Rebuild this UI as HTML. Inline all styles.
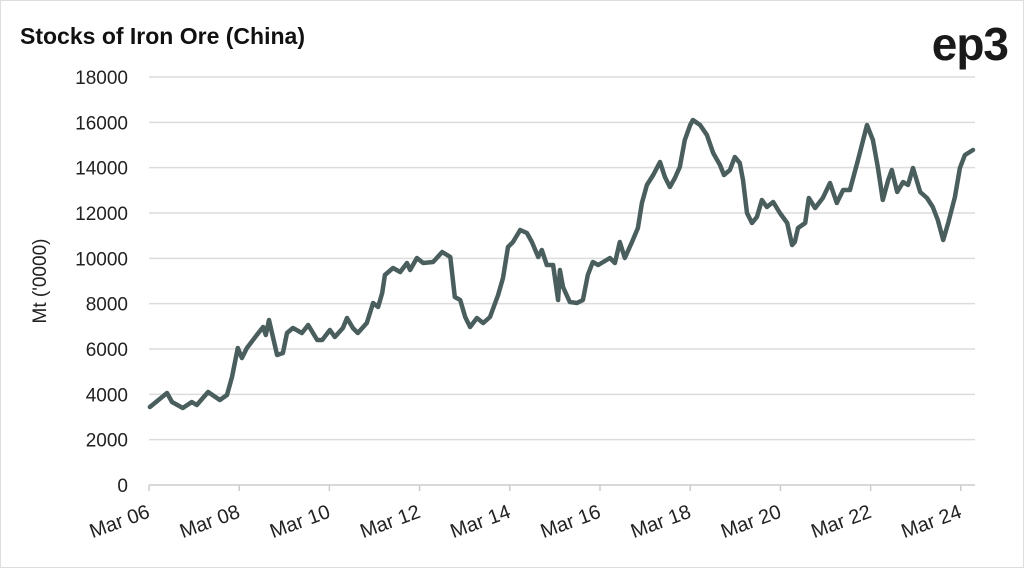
<!DOCTYPE html>
<html><head><meta charset="utf-8"><style>
html,body{margin:0;padding:0;background:#fff}
#wrap{position:relative;width:1024px;height:569px;overflow:hidden}
svg text{font-family:"Liberation Sans",sans-serif}
</style></head><body>
<div id="wrap">
<svg id="chart" width="1024" height="569">
<rect x="0.5" y="0.5" width="1023" height="567" fill="#fff" stroke="#ddd"/>
<text x="20" y="44" font-size="23" font-weight="bold" fill="#111">Stocks of Iron Ore (China)</text>
<text x="1008" y="60" font-size="46" font-weight="bold" fill="#1a1a1a" text-anchor="end" letter-spacing="-1">ep3</text>
<text transform="translate(46,281) rotate(-90)" font-size="19" fill="#222" text-anchor="middle">Mt ('0000)</text>
<g id="grid"></g><g id="xaxis"></g><g id="series"></g>
</svg></div>
<script>
const yTicks=[0,2000,4000,6000,8000,10000,12000,14000,16000,18000];
const xTickLabels=["Mar 06","Mar 08","Mar 10","Mar 12","Mar 14","Mar 16","Mar 18","Mar 20","Mar 22","Mar 24"];
const xTickYears=[2006,2008,2010,2012,2014,2016,2018,2020,2022,2024];
const dates=[2006.02,2006.40,2006.51,2006.75,2006.95,2007.06,2007.31,2007.57,2007.73,2007.84,2007.97,2008.06,2008.17,2008.39,2008.53,2008.59,2008.66,2008.84,2008.97,2009.06,2009.19,2009.39,2009.53,2009.73,2009.84,2010.01,2010.12,2010.30,2010.39,2010.52,2010.63,2010.83,2010.97,2011.08,2011.17,2011.23,2011.41,2011.57,2011.72,2011.79,2011.94,2012.08,2012.30,2012.50,2012.68,2012.78,2012.90,2013.01,2013.12,2013.27,2013.41,2013.56,2013.74,2013.85,2013.96,2014.07,2014.23,2014.38,2014.49,2014.63,2014.71,2014.82,2014.96,2015.07,2015.11,2015.18,2015.33,2015.49,2015.62,2015.73,2015.84,2015.96,2016.22,2016.33,2016.44,2016.55,2016.71,2016.84,2016.93,2017.04,2017.18,2017.33,2017.44,2017.55,2017.66,2017.77,2017.88,2018.00,2018.06,2018.22,2018.37,2018.51,2018.66,2018.75,2018.88,2018.99,2019.10,2019.17,2019.26,2019.37,2019.48,2019.59,2019.70,2019.84,2019.99,2020.15,2020.26,2020.32,2020.39,2020.55,2020.63,2020.77,2020.94,2021.10,2021.25,2021.39,2021.54,2021.72,2021.92,2022.05,2022.16,2022.27,2022.39,2022.47,2022.59,2022.72,2022.83,2022.94,2023.10,2023.25,2023.38,2023.49,2023.61,2023.72,2023.87,2023.98,2024.09,2024.27];
const values=[3440,4059,3662,3397,3662,3530,4103,3750,3971,4765,6044,5603,6044,6618,6971,6618,7280,5736,5824,6706,6927,6706,7059,6397,6397,6839,6530,6927,7368,6927,6706,7147,8030,7853,8471,9265,9574,9398,9795,9486,10015,9795,9839,10280,10059,8295,8162,7412,6971,7368,7147,7412,8383,9133,10501,10721,11251,11118,10721,10059,10368,9706,9706,8162,9486,8736,8074,8030,8162,9265,9839,9706,10015,9795,10721,10015,10721,11339,12442,13236,13677,14251,13589,13148,13545,14030,15221,15883,16104,15883,15442,14648,14118,13677,13898,14471,14207,13457,12001,11559,11824,12574,12265,12486,12001,11559,10589,10721,11339,11559,12662,12221,12662,13324,12442,13015,13015,14339,15883,15221,14030,12574,13457,13898,12927,13368,13236,13986,12927,12662,12265,11692,10809,11559,12707,13986,14560,14780];
const NS="http://www.w3.org/2000/svg";
const X0=149,XR=45.1,Y0=485,YS=408/18000;
function xs(t){return X0+(t-2006)*XR;}
function ys(v){return Y0-v*YS;}
const grid=document.getElementById('grid');
yTicks.forEach(v=>{
  if(v>0){const l=document.createElementNS(NS,'line');
  l.setAttribute('x1',X0);l.setAttribute('x2',975);l.setAttribute('y1',ys(v));l.setAttribute('y2',ys(v));
  l.setAttribute('stroke','#dcdcdc');l.setAttribute('stroke-width','1.5');
  
  
  grid.appendChild(l);}
  const t=document.createElementNS(NS,'text');
  t.setAttribute('x',128);t.setAttribute('y',ys(v)+7);t.setAttribute('text-anchor','end');
  t.setAttribute('font-size','19');t.setAttribute('fill','#222');t.textContent=v;
  
  
  grid.appendChild(t);
});
const xa=document.getElementById('xaxis');
const ax=document.createElementNS(NS,'line');
ax.setAttribute('x1',X0);ax.setAttribute('x2',975);ax.setAttribute('y1',Y0);ax.setAttribute('y2',Y0);
ax.setAttribute('stroke','#ccc');ax.setAttribute('stroke-width','1.5');


xa.appendChild(ax);
xTickYears.forEach((yr,i)=>{
  const x=xs(yr);
  const tk=document.createElementNS(NS,'line');
  tk.setAttribute('x1',x);tk.setAttribute('x2',x);tk.setAttribute('y1',Y0);tk.setAttribute('y2',Y0+6);
  tk.setAttribute('stroke','#ccc');tk.setAttribute('stroke-width','1.5');
  
  
  xa.appendChild(tk);
  const t=document.createElementNS(NS,'text');
  t.setAttribute('transform','translate('+(x+2)+','+(Y0+32)+') rotate(-20)');
  t.setAttribute('text-anchor','end');t.setAttribute('font-size','20');t.setAttribute('fill','#222');
  t.textContent=xTickLabels[i];
  
  
  xa.appendChild(t);
});
const p=document.createElementNS(NS,'polyline');
p.setAttribute('points',dates.map((d,i)=>xs(d).toFixed(1)+','+ys(values[i]).toFixed(1)).join(' '));
p.setAttribute('fill','none');p.setAttribute('stroke','#4a5e5e');p.setAttribute('stroke-width','4.5');
p.setAttribute('stroke-linejoin','round');p.setAttribute('stroke-linecap','round');


document.getElementById('series').appendChild(p);
</script>
</body></html>
